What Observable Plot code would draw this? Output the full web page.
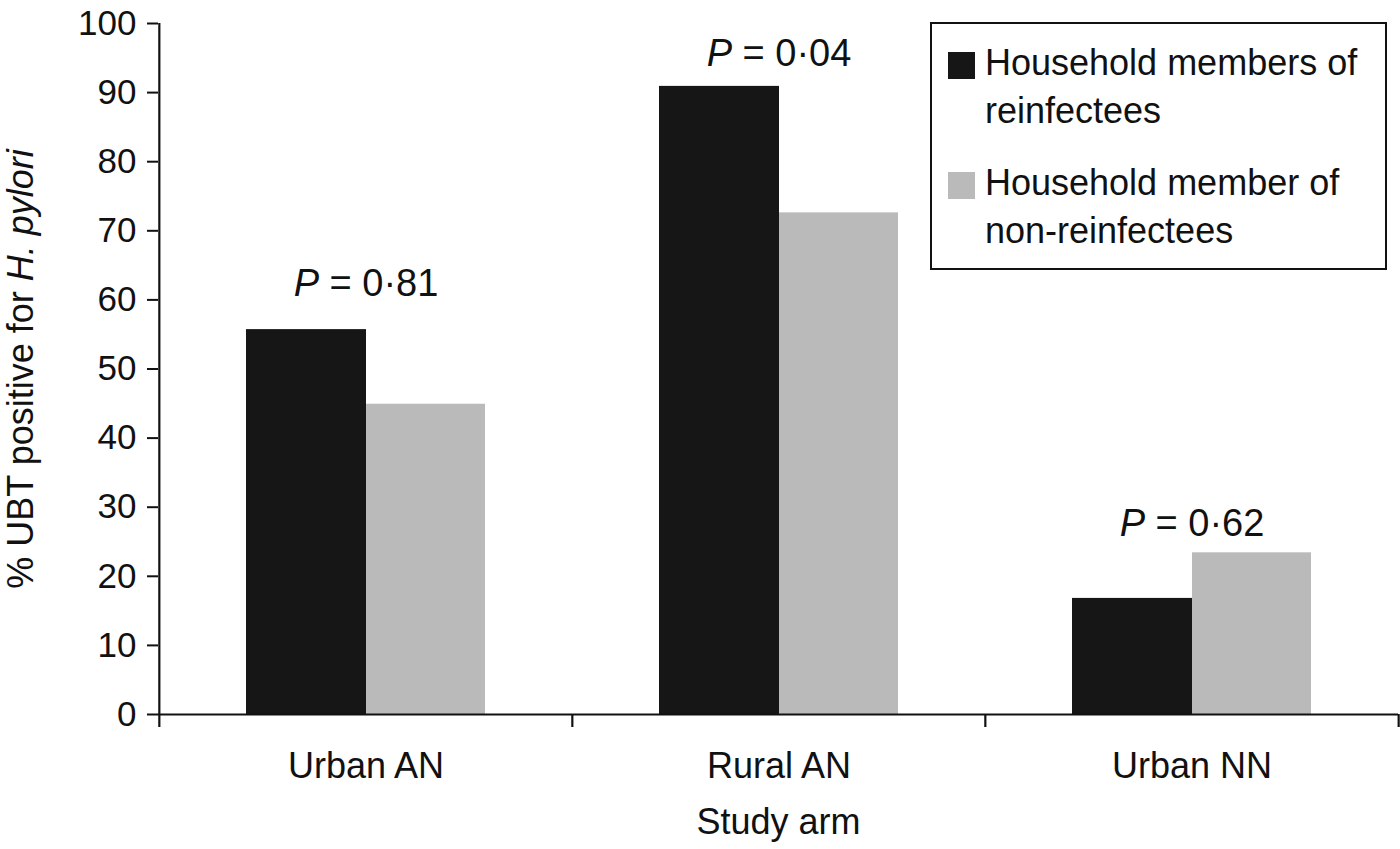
<!DOCTYPE html>
<html>
<head>
<meta charset="utf-8">
<script src="https://cdn.jsdelivr.net/npm/d3@7"></script>
<script src="https://cdn.jsdelivr.net/npm/@observablehq/plot@0.6"></script>
<style>
  body { margin: 0; background: #fff; }
  #wrap { position: relative; width: 1400px; height: 849px; font-family: "Liberation Sans", Arial, Helvetica, sans-serif; color: #111; }
  .legend { position: absolute; left: 930px; top: 22px; width: 453px; height: 244px; border: 2px solid #111; background: #fff; }
  .legend .sw { position: absolute; left: 16px; width: 27px; height: 27px; }
  .legend .lt { position: absolute; left: 53px; font-size: 36px; line-height: 48px; white-space: nowrap; }
</style>
</head>
<body>
<div id="wrap"></div>
<script>
// ---- data ----
const categories = ["Urban AN", "Rural AN", "Urban NN"];
const seriesNames = ["Household members of reinfectees", "Household member of non-reinfectees"];
const legendLines = [["Household members of", "reinfectees"], ["Household member of", "non-reinfectees"]];
const seriesColors = ["#161616", "#bababa"];
const reinfectees = [55.7, 90.9, 16.8];
const nonReinfectees = [44.9, 72.6, 23.4];
const pValues = ["0·81", "0·04", "0·62"];
const pLabelY = [60.6, 93.9, 25.9];
const yTicks = [0, 10, 20, 30, 40, 50, 60, 70, 80, 90, 100];
const yLabel = "% UBT positive for H. pylori";
const xLabel = "Study arm";

const W = 1400, H = 849, ML = 158, MR = 2, MT = 23, MB = 135;
const bw = (W - ML - MR) / categories.length;

const blackData = categories.map((c, i) => ({cat: c, v: reinfectees[i]}));
const grayData = categories.map((c, i) => ({cat: c, v: nonReinfectees[i]}));
const pData = categories.map((c, i) => ({cat: c, y: pLabelY[i], t: "P = " + pValues[i]}));

const chart = Plot.plot({
  width: W, height: H,
  marginLeft: ML, marginRight: MR, marginTop: MT, marginBottom: MB,
  style: {fontFamily: '"Liberation Sans", Arial, Helvetica, sans-serif', color: "#111", background: "#fff"},
  x: {domain: categories, padding: 0},
  y: {domain: [0, 100]},
  marks: [
    Plot.barY(blackData, {x: "cat", y: "v", fill: seriesColors[0], insetLeft: 87, insetRight: 206}),
    Plot.barY(grayData, {x: "cat", y: "v", fill: seriesColors[1], insetLeft: 207, insetRight: 87}),
    Plot.axisY({ticks: yTicks, tickSize: 11, tickPadding: 11, fontSize: 35, strokeWidth: 2, label: null}),
    Plot.axisX({tickSize: 0, tickPadding: 38, fontSize: 36, label: null}),
    Plot.ruleY([0], {stroke: "#111", strokeWidth: 2.2}),
    Plot.ruleX([categories[0]], {x: d => d, dx: -bw / 2, insetBottom: -13, stroke: "#111", strokeWidth: 2.2}),
    Plot.ruleX(categories.slice(1), {x: d => d, dx: -bw / 2, y1: 0, y2: 0, insetBottom: -13, stroke: "#111", strokeWidth: 2.2}),
    Plot.ruleX(categories.slice(-1), {x: d => d, dx: bw / 2, y1: 0, y2: 0, insetBottom: -13, stroke: "#111", strokeWidth: 2.2}),
    Plot.text(pData, {x: "cat", y: "y", text: "t", fontSize: 38, lineAnchor: "bottom", fill: "#111"}),
    Plot.text([yLabel], {frameAnchor: "left", textAnchor: "middle", rotate: -90, dx: -137, fontSize: 36, fill: "#111"}),
    Plot.text([xLabel], {frameAnchor: "bottom", dy: 94, lineAnchor: "top", fontSize: 36, fill: "#111"})
  ]
});

// italic parts
d3.select(chart).selectAll("text").each(function() {
  const s = this.textContent;
  if (this.children.length) return;
  const t = d3.select(this);
  if (s.startsWith("P = ")) {
    t.text(null);
    t.append("tspan").attr("font-style", "italic").text("P");
    t.append("tspan").text(s.slice(1));
  } else if (s === yLabel) {
    const k = s.indexOf("H. pylori");
    t.text(null);
    t.append("tspan").text(s.slice(0, k));
    t.append("tspan").attr("font-style", "italic").text(s.slice(k));
  }
});

const wrap = document.getElementById("wrap");
wrap.appendChild(chart);

// legend
const leg = document.createElement("div");
leg.className = "legend";
leg.setAttribute("aria-label", seriesNames.join(" / "));
const swTops = [28, 148], txTops = [14.5, 134.5];
seriesNames.forEach((name, i) => {
  const sw = document.createElement("div");
  sw.className = "sw";
  sw.style.top = swTops[i] + "px";
  sw.style.background = seriesColors[i];
  leg.appendChild(sw);
  const lt = document.createElement("div");
  lt.className = "lt";
  lt.style.top = txTops[i] + "px";
  lt.innerHTML = legendLines[i].join("<br>");
  leg.appendChild(lt);
});
wrap.appendChild(leg);
</script>
</body>
</html>
